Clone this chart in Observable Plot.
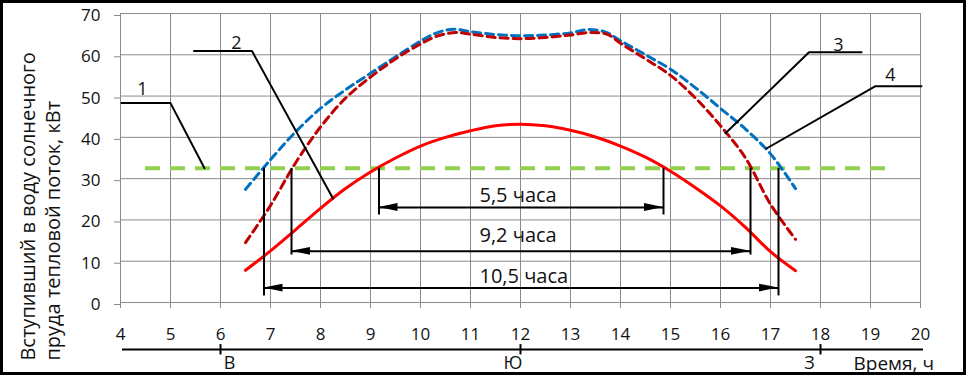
<!DOCTYPE html>
<html>
<head>
<meta charset="utf-8">
<script src="https://cdn.jsdelivr.net/npm/d3@7"></script>
<script src="https://cdn.jsdelivr.net/npm/@observablehq/plot@0.6"></script>
<style>
html, body { margin: 0; padding: 0; background: #fff; overflow: hidden; }
#wrap { position: relative; width: 970px; height: 376px; }
#border { position: absolute; left: 0; top: 0; width: 966px; height: 375px; box-sizing: border-box; border: 3px solid #000; pointer-events: none; }
</style>
</head>
<body>
<div id="wrap"><div id="chart"></div><div id="border"></div></div>
<script>
// ---- tick values ----
const xTicks = [4, 5, 6, 7, 8, 9, 10, 11, 12, 13, 14, 15, 16, 17, 18, 19, 20];
const yTicks = [0, 10, 20, 30, 40, 50, 60, 70];

// ---- curve 4 (blue dashed) ----
const hours4 = [6.5, 7, 7.5, 8, 8.5, 9, 9.5, 10, 10.3, 10.65, 11, 11.5, 12, 12.5, 13, 13.35, 13.7, 14, 14.5, 15, 15.5, 16, 16.5, 17, 17.5];
const flux4  = [27.4, 34.6, 41.3, 47, 51.5, 55.5, 59.5, 63.3, 65.2, 66.2, 65.6, 64.9, 64.6, 64.8, 65.3, 66.1, 65.5, 63.4, 60, 56.5, 52, 47, 42, 36, 27.6];

// ---- curve 3 (dark red dashed) ----
const hours3 = [6.5, 7, 7.5, 8, 8.5, 9, 9.5, 10, 10.35, 10.7, 11, 11.5, 12, 12.5, 13, 13.4, 13.75, 14, 14.5, 15, 15.5, 16, 16.5, 17, 17.5];
const flux3  = [14.5, 23.5, 33.8, 42.5, 49.5, 54.6, 59, 62.6, 64.6, 65.4, 65, 64.2, 63.9, 64.2, 64.8, 65.4, 64.9, 62.8, 59, 55, 49.5, 42.8, 35, 23.8, 15.3];

// ---- curve 2 (red solid) ----
const hours2 = [6.5, 7, 7.5, 8, 8.5, 9, 9.5, 10, 10.5, 11, 11.5, 12, 12.5, 13, 13.5, 14, 14.5, 15, 15.5, 16, 16.5, 17, 17.5];
const flux2  = [7.8, 12.5, 17.6, 22.8, 27.6, 31.6, 35, 37.9, 40, 41.6, 42.8, 43.2, 42.8, 41.7, 40.1, 37.9, 35.2, 31.8, 27.8, 23.4, 18.2, 12.3, 7.7];

// ---- curve 1 (green dashed threshold) ----
const thresholdLevel = 32.5;
const thresholdHours = [4.5, 19.35];

// ---- duration spans ----
const spanLabels = ["5,5 часа", "9,2 часа", "10,5 часа"];
const spanStart  = [9.17, 7.42, 6.87];
const spanEnd    = [14.86, 16.6, 17.16];
const spanLevel  = [23, 12.4, 3.5];
const spanDrop   = [21.2, 11.5, 1.6];
const spanLabelLevel = [25.8, 16.2, 6.3];
const spanLabelHour = 11.18;

// ---- curve number callouts ----
const curveNumbers = ["1", "2", "3", "4"];
const leaderHours = [[4.02, 5.0, 5.68], [5.47, 6.63, 8.25], [16.1, 17.77, 18.82], [16.92, 19.1, 20.02]];
const leaderFlux  = [[48.3, 48.3, 32.5], [60.9, 60.9, 25.2], [41, 60.6, 60.6], [37.3, 52.4, 52.4]];
const numberHours = [4.44, 6.32, 18.36, 19.4];
const numberFlux  = [51.7, 62.8, 62.3, 55];

// ---- compass row under the time axis ----
const compassLabels = ["В", "Ю", "З"];
const compassHours  = [6, 12, 18];
const compassLabelHours = [6.18, 11.85, 17.78];
const timeLabel = "Время, ч";
const axisTitle = ["Вступивший в воду солнечного", "пруда тепловой поток, кВт"];

// ---- build tables ----
const toRows = (hs, vs) => hs.map((h, i) => ({x: h, y: vs[i]}));
const c4 = toRows(hours4, flux4);
const c3 = toRows(hours3, flux3);
const c2 = toRows(hours2, flux2);
const green = [{y: thresholdLevel, x1: thresholdHours[0], x2: thresholdHours[1]}];

const spans = spanLabels.map((t, i) => ({label: t, x1: spanStart[i], x2: spanEnd[i], y: spanLevel[i], drop: spanDrop[i], ly: spanLabelLevel[i]}));
const verticals = spans.flatMap(s => [{x: s.x1, y1: s.drop, y2: thresholdLevel}, {x: s.x2, y1: s.drop, y2: thresholdLevel}]);
const headLen = 0.38, headHalf = 0.95;
const heads = spans.flatMap((s, i) => [
  {id: "l" + i, x: s.x1, y1: s.y, y2: s.y},
  {id: "l" + i, x: s.x1 + headLen, y1: s.y - headHalf, y2: s.y + headHalf},
  {id: "r" + i, x: s.x2 - headLen, y1: s.y - headHalf, y2: s.y + headHalf},
  {id: "r" + i, x: s.x2, y1: s.y, y2: s.y}
]);
const leaders = leaderHours.flatMap((hs, k) => hs.map((h, j) => ({id: k, x: h, y: leaderFlux[k][j]})));
const numbers = curveNumbers.map((n, i) => ({text: n, x: numberHours[i], y: numberFlux[i]}));

const rowLevel = -11.4;
const compassLine = [{x1: 4.04, x2: 20.06, y: rowLevel}];
const compassTicks = compassHours.map(h => ({x: h, y1: rowLevel + 1.2, y2: rowLevel - 1.3}));
const compassText = compassLabels.map((t, i) => ({text: t, x: compassLabelHours[i], y: -14.8}));

const chart = Plot.plot({
  width: 970,
  height: 376,
  marginLeft: 120,
  marginRight: 50,
  marginTop: 13,
  marginBottom: 74,
  x: {domain: [4, 20], label: null},
  y: {domain: [0, 70], label: null},
  style: {fontFamily: "'Open Sans', sans-serif", fontSize: "17px", color: "#111", background: "transparent", overflow: "visible"},
  marks: [
    Plot.gridX(xTicks, {stroke: "#8a8a8a", strokeOpacity: 1, strokeWidth: 1}),
    Plot.gridY(yTicks, {stroke: "#8a8a8a", strokeOpacity: 1, strokeWidth: 1}),
    Plot.axisX(xTicks, {tickSize: 6, tickPadding: 19, stroke: "#8a8a8a", fill: "#111", label: null, tickFormat: d => String(d)}),
    Plot.axisY(yTicks, {tickSize: 6, tickPadding: 14, stroke: "#8a8a8a", fill: "#111", label: null, tickFormat: d => String(d), dy: 2}),

    // curve 1: threshold
    Plot.ruleY(green, {y: "y", x1: "x1", x2: "x2", stroke: "#92D050", strokeWidth: 4, strokeDasharray: "15 10"}),
    // curve 4
    Plot.line(c4, {x: "x", y: "y", curve: "catmull-rom", stroke: "#0070C0", strokeWidth: 3, strokeDasharray: "8 5"}),
    // curve 3
    Plot.line(c3, {x: "x", y: "y", curve: "catmull-rom", stroke: "#C00000", strokeWidth: 3, strokeDasharray: "8 5"}),
    // curve 2
    Plot.line(c2, {x: "x", y: "y", curve: "catmull-rom", stroke: "#FF0000", strokeWidth: 3}),

    // duration spans
    Plot.ruleX(verticals, {x: "x", y1: "y1", y2: "y2", stroke: "#000", strokeWidth: 2}),
    Plot.ruleY(spans, {y: "y", x1: "x1", x2: "x2", stroke: "#000", strokeWidth: 2}),
    Plot.areaY(heads, {x: "x", y1: "y1", y2: "y2", z: "id", fill: "#000", curve: "linear"}),
    Plot.text(spans, {x: () => spanLabelHour, y: "ly", text: "label", textAnchor: "start", fontSize: 20, fill: "#111"}),

    // callouts
    Plot.line(leaders, {x: "x", y: "y", z: "id", stroke: "#000", strokeWidth: 2, curve: "linear"}),
    Plot.text(numbers, {x: "x", y: "y", text: "text", fontSize: 18, fill: "#111"}),

    // compass row
    Plot.ruleY(compassLine, {y: "y", x1: "x1", x2: "x2", stroke: "#000", strokeWidth: 2}),
    Plot.ruleX(compassTicks, {x: "x", y1: "y1", y2: "y2", stroke: "#000", strokeWidth: 2}),
    Plot.text(compassText, {x: "x", y: "y", text: "text", fontSize: 18, fill: "#111"}),
    Plot.text([timeLabel], {x: () => 18.66, y: () => -14.8, text: d => d, textAnchor: "start", fontSize: 19, fill: "#111"}),

    // y-axis title (two rotated lines)
    Plot.text([axisTitle[0]], {x: () => 2.17, y: () => -14.06, text: d => d, rotate: -90, textAnchor: "start", fontSize: 20, fill: "#111"}),
    Plot.text([axisTitle[1]], {x: () => 2.66, y: () => -14.06, text: d => d, rotate: -90, textAnchor: "start", fontSize: 20, fill: "#111"})
  ]
});
document.getElementById("chart").appendChild(chart);
</script>
</body>
</html>
